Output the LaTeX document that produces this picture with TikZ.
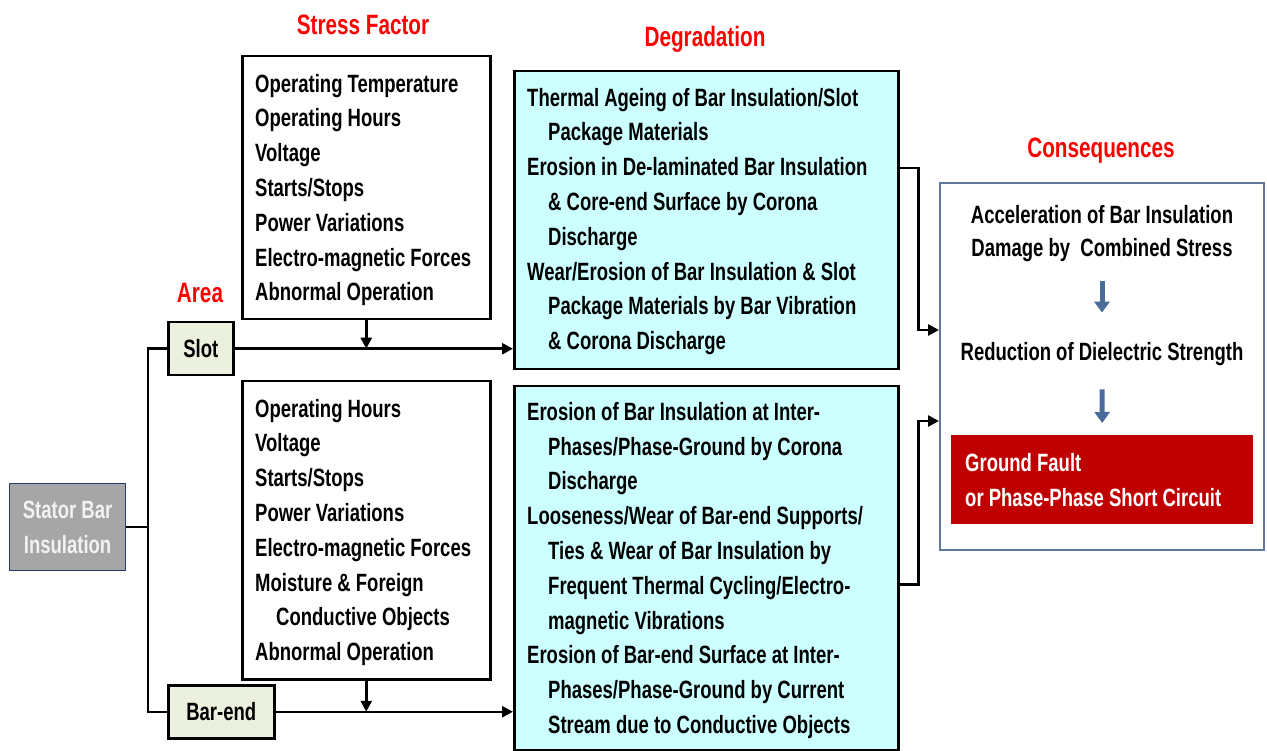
\documentclass[tikz,border=0pt]{standalone}
\usepackage{fontspec}
\newfontfamily\nar{Liberation Sans}[FakeStretch=0.74]
\usetikzlibrary{arrows.meta,calc}
\definecolor{titlered}{RGB}{255,0,0}
\definecolor{degcyan}{RGB}{204,255,255}
\definecolor{areafill}{RGB}{235,241,222}
\definecolor{statorfill}{RGB}{166,166,166}
\definecolor{statorborder}{RGB}{40,60,110}
\definecolor{statortext}{RGB}{242,242,242}
\definecolor{faultred}{RGB}{192,0,0}
\definecolor{consborder}{RGB}{95,120,158}
\definecolor{arrowblue}{RGB}{74,108,155}
\begin{document}
\begin{tikzpicture}[x=1pt,y=-1pt,
  frame/.style={draw=black, line width=2.5pt, rectangle, inner sep=0pt, anchor=north west},
  degbox/.style={frame, fill=degcyan},
  areabox/.style={frame, fill=areafill, minimum height=53pt,
     font=\nar\bfseries\fontsize{25}{30}\selectfont},
  txt/.style={font=\nar\bfseries\fontsize{25}{34.8}\selectfont, align=left, anchor=west, inner sep=0pt},
  ctxt/.style={font=\nar\bfseries\fontsize{25}{33}\selectfont, align=center, inner sep=0pt},
  ttl/.style={font=\nar\bfseries\fontsize{28}{30}\selectfont, text=titlered, inner sep=0pt},
  conn/.style={draw=black, line width=2.5pt},
  arr/.style={conn, -{Triangle[length=11pt,width=11pt]}},
  barrow/.style={draw=arrowblue, line width=5pt, -{Triangle[length=11pt,width=15pt]}}
]
\useasboundingbox[fill=white] (0,0) rectangle (1267,751);

% titles
\node[ttl] (tstress) at (363,25) {Stress Factor};
\node[ttl] (tdeg) at (705,39) {Degradation};
\node[ttl] (tcons) at (1101,151) {Consequences};
\node[ttl] (tarea) at (200,293) {Area};

% stator bar insulation
\node[draw=statorborder, line width=1.2pt, fill=statorfill, anchor=north west,
      minimum width=116pt, minimum height=87pt, inner sep=0pt, align=center,
      text=statortext, font=\nar\bfseries\fontsize{25}{35}\selectfont]
      (stator) at (9,483) {Stator Bar\\Insulation};

% area boxes
\node[areabox, minimum width=65pt] (slot) at (167,321) {Slot};
\node[areabox, minimum width=106pt] (barend) at (167,684) {Bar-end};

% stress factor boxes
\node[frame, minimum width=248pt, minimum height=263pt] (st1) at (241,55) {};
\node[txt] (st1t) at (255,190) {Operating Temperature\\Operating Hours\\Voltage\\Starts/Stops\\Power Variations\\Electro-magnetic Forces\\Abnormal Operation};
\node[frame, minimum width=248pt, minimum height=298pt] (st2) at (241,380) {};
\node[txt] (st2t) at (255,532.5) {Operating Hours\\Voltage\\Starts/Stops\\Power Variations\\Electro-magnetic Forces\\Moisture \& Foreign\\\hspace*{21pt}Conductive Objects\\Abnormal Operation};

% degradation boxes
\node[degbox, minimum width=384pt, minimum height=298pt] (deg1) at (513,70) {};
\node[txt] (deg1t) at (527,221.5) {Thermal Ageing of Bar Insulation/Slot\\\hspace*{21pt}Package Materials\\Erosion in De-laminated Bar Insulation\\\hspace*{21pt}\& Core-end Surface by Corona\\\hspace*{21pt}Discharge\\Wear/Erosion of Bar Insulation \& Slot\\\hspace*{21pt}Package Materials by Bar Vibration\\\hspace*{21pt}\& Corona Discharge};
\node[degbox, minimum width=384pt, minimum height=364pt] (deg2) at (513,385) {};
\node[txt] (deg2t) at (527,570.5) {Erosion of Bar Insulation at Inter-\\\hspace*{21pt}Phases/Phase-Ground by Corona\\\hspace*{21pt}Discharge\\Looseness/Wear of Bar-end Supports/\\\hspace*{21pt}Ties \& Wear of Bar Insulation by\\\hspace*{21pt}Frequent Thermal Cycling/Electro-\\\hspace*{21pt}magnetic Vibrations\\Erosion of Bar-end Surface at Inter-\\\hspace*{21pt}Phases/Phase-Ground by Current\\\hspace*{21pt}Stream due to Conductive Objects};

% consequences
\node[draw=consborder, line width=2pt, anchor=north west, minimum width=324pt,
      minimum height=367pt, inner sep=0pt] (cons) at (939,182) {};
\node[ctxt] (acc) at (1102,233.5) {Acceleration of Bar Insulation\\Damage by~ Combined Stress};
\node[ctxt] (reduc) at (1102,354.5) {Reduction of Dielectric Strength};
\node[fill=faultred, anchor=north west, minimum width=302pt, minimum height=89pt,
      inner sep=0pt] (fault) at (951,435) {};
\node[txt, text=white, font=\nar\bfseries\fontsize{25}{35}\selectfont] (faultt) at (965,480.5)
      {Ground Fault\\or Phase-Phase Short Circuit};
\draw[barrow] ([yshift=-19pt]acc.south) -- ([yshift=30pt]reduc.north);
\draw[barrow] ([yshift=-23pt]reduc.south) -- ([yshift=12pt]fault.north);

% connectors
\coordinate (j) at ($(stator.east)+(22,0)$);
\draw[conn] (stator.east) -- (j);
\draw[conn] (slot.west) -| (j) |- (barend.west);
\draw[arr] (slot.east) -- (slot.east -| deg1.west);
\draw[arr] (barend.east) -- (barend.east -| deg2.west);
\draw[arr] (st1.south) -- (st1.south |- slot.east);
\draw[arr] (st2.south) -- (st2.south |- barend.east);
\draw[arr] ([yshift=52pt]deg1.east) -- ++(19,0) |- ([yshift=36.5pt]cons.west);
\draw[arr] ([yshift=-16pt]deg2.east) -- ++(19,0) |- ([yshift=-54.5pt]cons.west);
\end{tikzpicture}
\end{document}
